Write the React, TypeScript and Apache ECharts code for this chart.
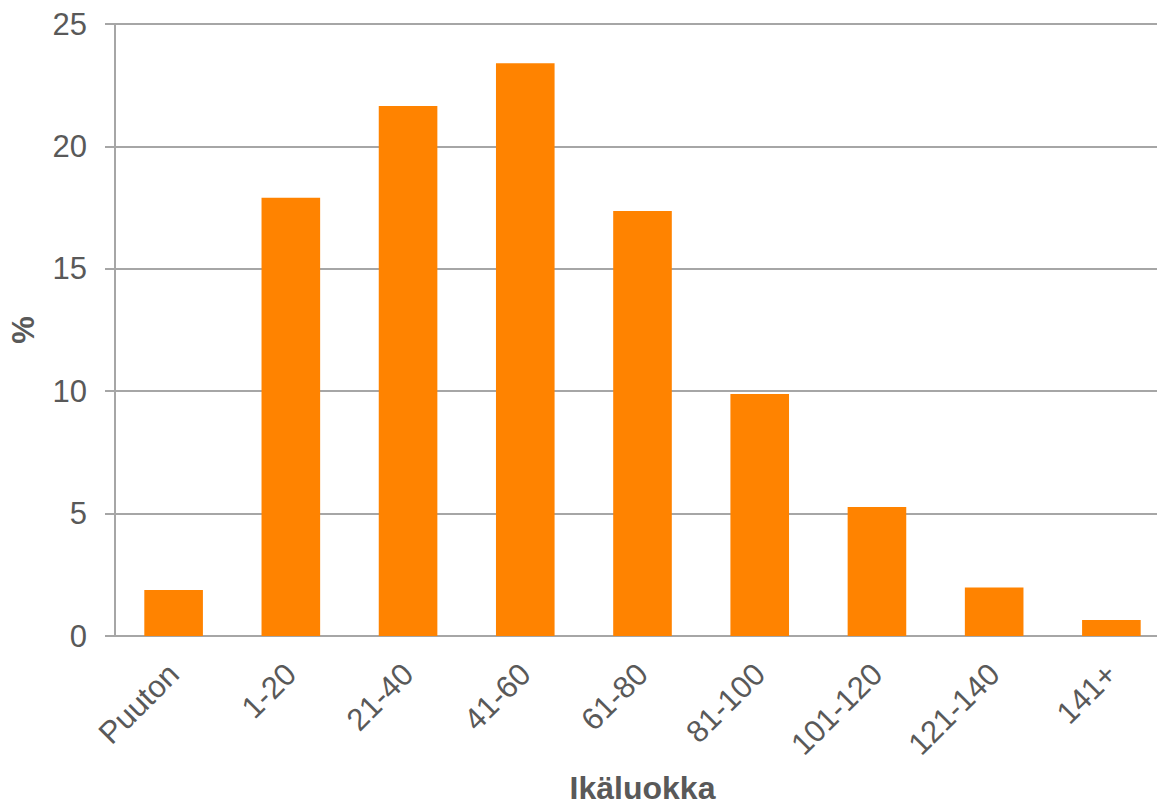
import React, { useEffect, useRef } from "react";
import * as echarts from "echarts";

const categories = ["Puuton", "1-20", "21-40", "41-60", "61-80", "81-100", "101-120", "121-140", "141+"];
const values = [1.88, 17.9, 21.65, 23.4, 17.36, 9.89, 5.27, 1.98, 0.65];
const yTicks = [0, 5, 10, 15, 20, 25];
const xTitle = "Ikäluokka";
const yTitle = "%";

export default function App() {
  const ref = useRef<HTMLDivElement>(null);
  useEffect(() => {
    if (!ref.current) return;
    const chart = echarts.init(ref.current, null, { renderer: "svg" });
    const font = "Liberation Sans, Arial, Helvetica, sans-serif";
    chart.setOption({
      animation: false,
      backgroundColor: "#ffffff",
      grid: {
        left: 115,
        top: 24,
        bottom: 169,
        right: -13,
        containLabel: false,
        outerBoundsMode: "none",
      },
      xAxis: {
        type: "category",
        data: categories,
        name: xTitle,
        nameLocation: "middle",
        nameGap: 136,
        nameTextStyle: { fontFamily: font, fontSize: 32, fontWeight: "bold", color: "#595959" },
        axisLine: { show: true, lineStyle: { color: "#a6a6a6", width: 2 } },
        axisTick: { show: false },
        axisLabel: {
          rotate: 45,
          interval: 0,
          margin: 33,
          fontFamily: font,
          fontSize: 31,
          color: "#595959",
        },
      },
      yAxis: {
        type: "value",
        min: yTicks[0],
        max: yTicks[yTicks.length - 1],
        interval: 5,
        name: yTitle,
        nameLocation: "middle",
        nameGap: 76,
        nameRotate: 90,
        nameTextStyle: { fontFamily: font, fontSize: 31, fontWeight: "bold", color: "#595959" },
        axisLine: { show: true, lineStyle: { color: "#a6a6a6", width: 2 } },
        axisTick: { show: true, inside: false, length: 10, lineStyle: { color: "#a6a6a6", width: 2 } },
        splitLine: { show: true, lineStyle: { color: "#a6a6a6", width: 2 } },
        axisLabel: { margin: 28, fontFamily: font, fontSize: 31, color: "#595959" },
      },
      series: [
        {
          type: "bar",
          data: values,
          barWidth: "50%",
          itemStyle: { color: "#ff8300" },
        },
      ],
    });
    return () => chart.dispose();
  }, []);
  return (
    <div
      ref={ref}
      style={{ position: "fixed", left: 0, top: 0, width: 1157, height: 805 }}
    />
  );
}
